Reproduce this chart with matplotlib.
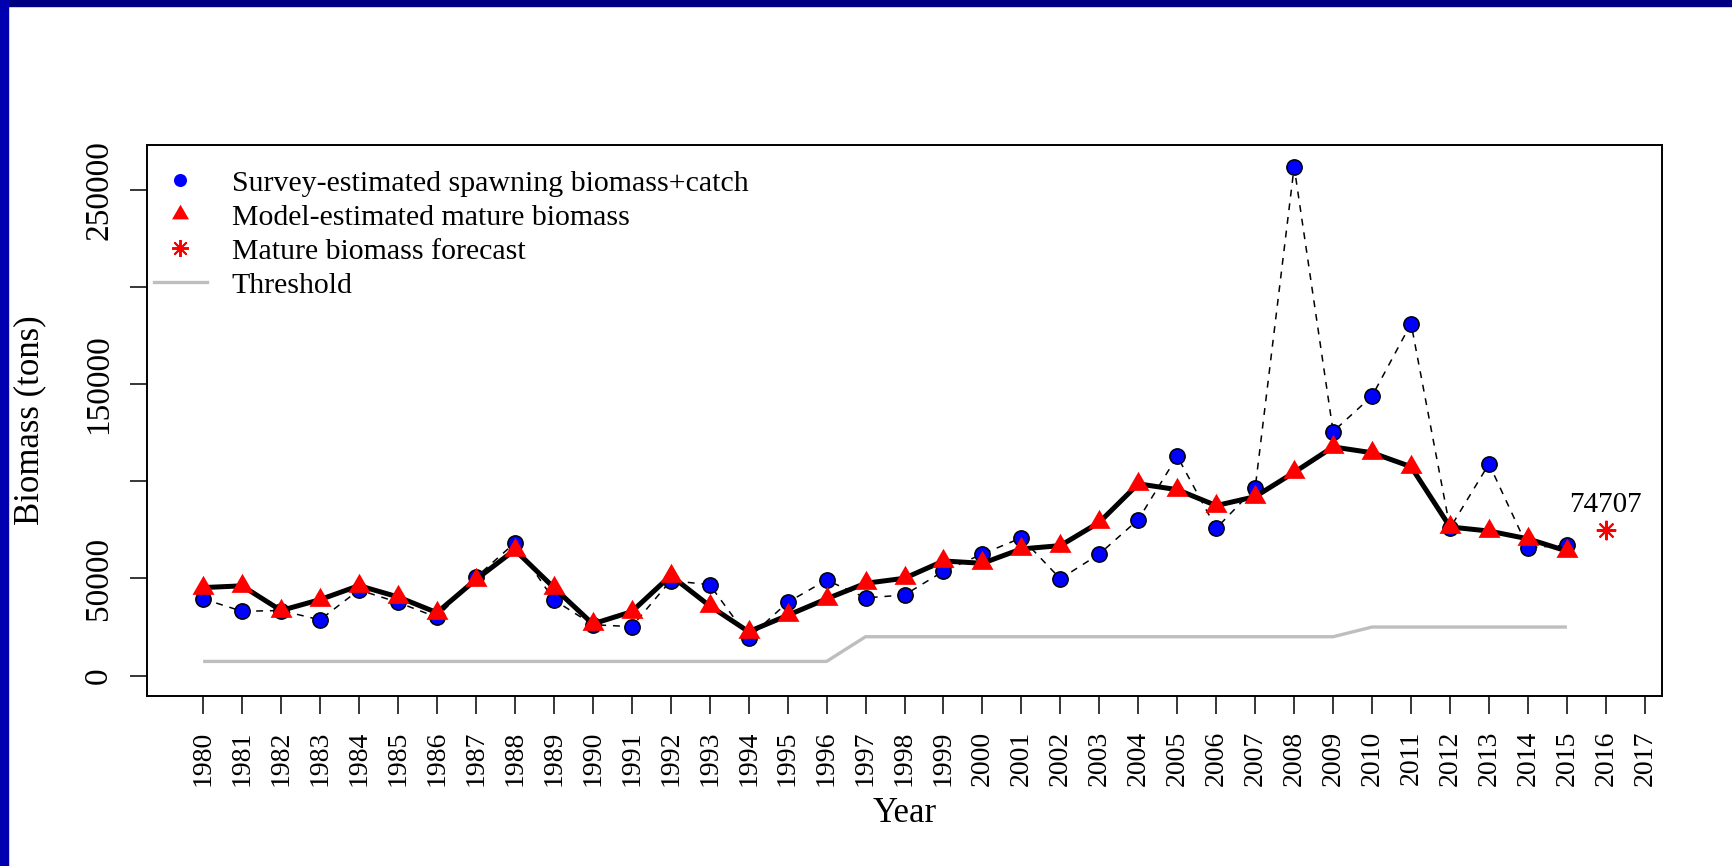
import matplotlib
matplotlib.use("Agg")
import matplotlib.pyplot as plt
from matplotlib.lines import Line2D
from matplotlib.patches import Rectangle

plt.rcParams['font.family'] = ['Liberation Serif', 'DejaVu Serif']

years = list(range(1980, 2016))
survey = [39500, 33100, 33500, 28700, 44100, 37700, 30000, 50600, 68300, 39000,
          26200, 25200, 48900, 46800, 19400, 37700, 49200, 40000, 41500, 53700,
          62600, 70900, 49800, 62600, 80300, 112900, 75800, 96600, 261900, 125600,
          143900, 181200, 75900, 109000, 65800, 67100]
model = [45300, 46200, 33500, 39100, 46300, 40500, 32400, 49400, 64700, 45300,
         26600, 32900, 51500, 35900, 22600, 31000, 39500, 47500, 50100, 59000,
         57800, 65200, 66900, 78900, 98700, 95700, 87500, 92100, 104600, 117700,
         114700, 107500, 76500, 74400, 70400, 64100]
threshold = [7300] * 17 + [20000] * 13 + [25000] * 6
forecast_year = 2016
forecast = 74707
xtick_years = list(range(1980, 2018))
ytick_vals = [0, 50000, 100000, 150000, 200000, 250000]
ytick_labels = ['0', '50000', '', '150000', '', '250000']

# equilateral triangle like R's pch 17
tri = [(0, 1), (-0.866, -0.5), (0.866, -0.5)]
aster = (8, 2, 0)

fig = plt.figure(figsize=(17.32, 8.66), dpi=100)
ax = fig.add_axes([147 / 1732, 1 - 696 / 866, 1515 / 1732, 551 / 866])

ax.plot(years, threshold, color='#BEBEBE', lw=2.4, solid_capstyle='butt', zorder=1)
ax.plot(years, survey, color='black', lw=1.1, dashes=(4.5, 4.5), zorder=2)
ax.plot(years, survey, ls='none', marker='o', ms=11, mfc='#0000FF', mec='black',
        mew=1.1, zorder=3)
ax.plot(years, model, color='black', lw=3.6, zorder=4)
ax.plot(years, model, ls='none', marker=tri, ms=18.3, mfc='#FF0000', mec='none', zorder=5)
ax.plot([forecast_year], [forecast], ls='none', marker=aster, ms=14, mec='#FF0000',
        mew=1.5, zorder=5)
ax.annotate(str(forecast), (forecast_year, forecast), xytext=(0, 13),
            textcoords='offset points', ha='center', va='baseline', fontsize=21)

ax.set_xlim(1978.56, 2017.44)
ax.set_ylim(-10500, 273100)
ax.set_xticks(xtick_years)
ax.set_xticklabels([str(y) for y in xtick_years], rotation=90, fontsize=20)
ax.set_yticks(ytick_vals)
ax.set_yticklabels(ytick_labels, rotation=90, fontsize=24, va='center')
ax.tick_params(axis='x', direction='out', length=13, width=1.1, pad=12)
ax.tick_params(axis='y', direction='out', length=12.6, width=1.1, pad=11)
for s in ax.spines.values():
    s.set_linewidth(1.4)

fig.text(30 / 1732, 1 - 420 / 866, 'Biomass (tons)', rotation=90, ha='center',
         va='center', fontsize=25)
fig.text(905 / 1732, 1 - 813 / 866, 'Year', ha='center', va='center', fontsize=25)

handles = [
    Line2D([], [], ls='none', marker='o', ms=9.4, mfc='#0000FF', mec='none'),
    Line2D([], [], ls='none', marker=tri, ms=14.1, mfc='#FF0000', mec='none'),
    Line2D([], [], ls='none', marker=aster, ms=12.2, mec='#FF0000', mew=1.4),
    Line2D([], [], color='#BEBEBE', lw=2.4),
]
labels = ['Survey-estimated spawning biomass+catch', 'Model-estimated mature biomass',
          'Mature biomass forecast', 'Threshold']
ax.legend(handles, labels, loc='upper left', bbox_to_anchor=(0.0046, 0.955),
          frameon=False, fontsize=21.5, borderpad=0, borderaxespad=0,
          handlelength=1.77, handletextpad=0.84, labelspacing=0.24)

# dark blue frame on top and left
fig.patches.append(Rectangle((0, 1 - 6 / 866), 1, 6 / 866, transform=fig.transFigure,
                             color='#000080', zorder=10))
fig.patches.append(Rectangle((0, 0), 8 / 1732, 1, transform=fig.transFigure,
                             color='#0000B0', zorder=10))

fig.savefig('out.png', dpi=100)
